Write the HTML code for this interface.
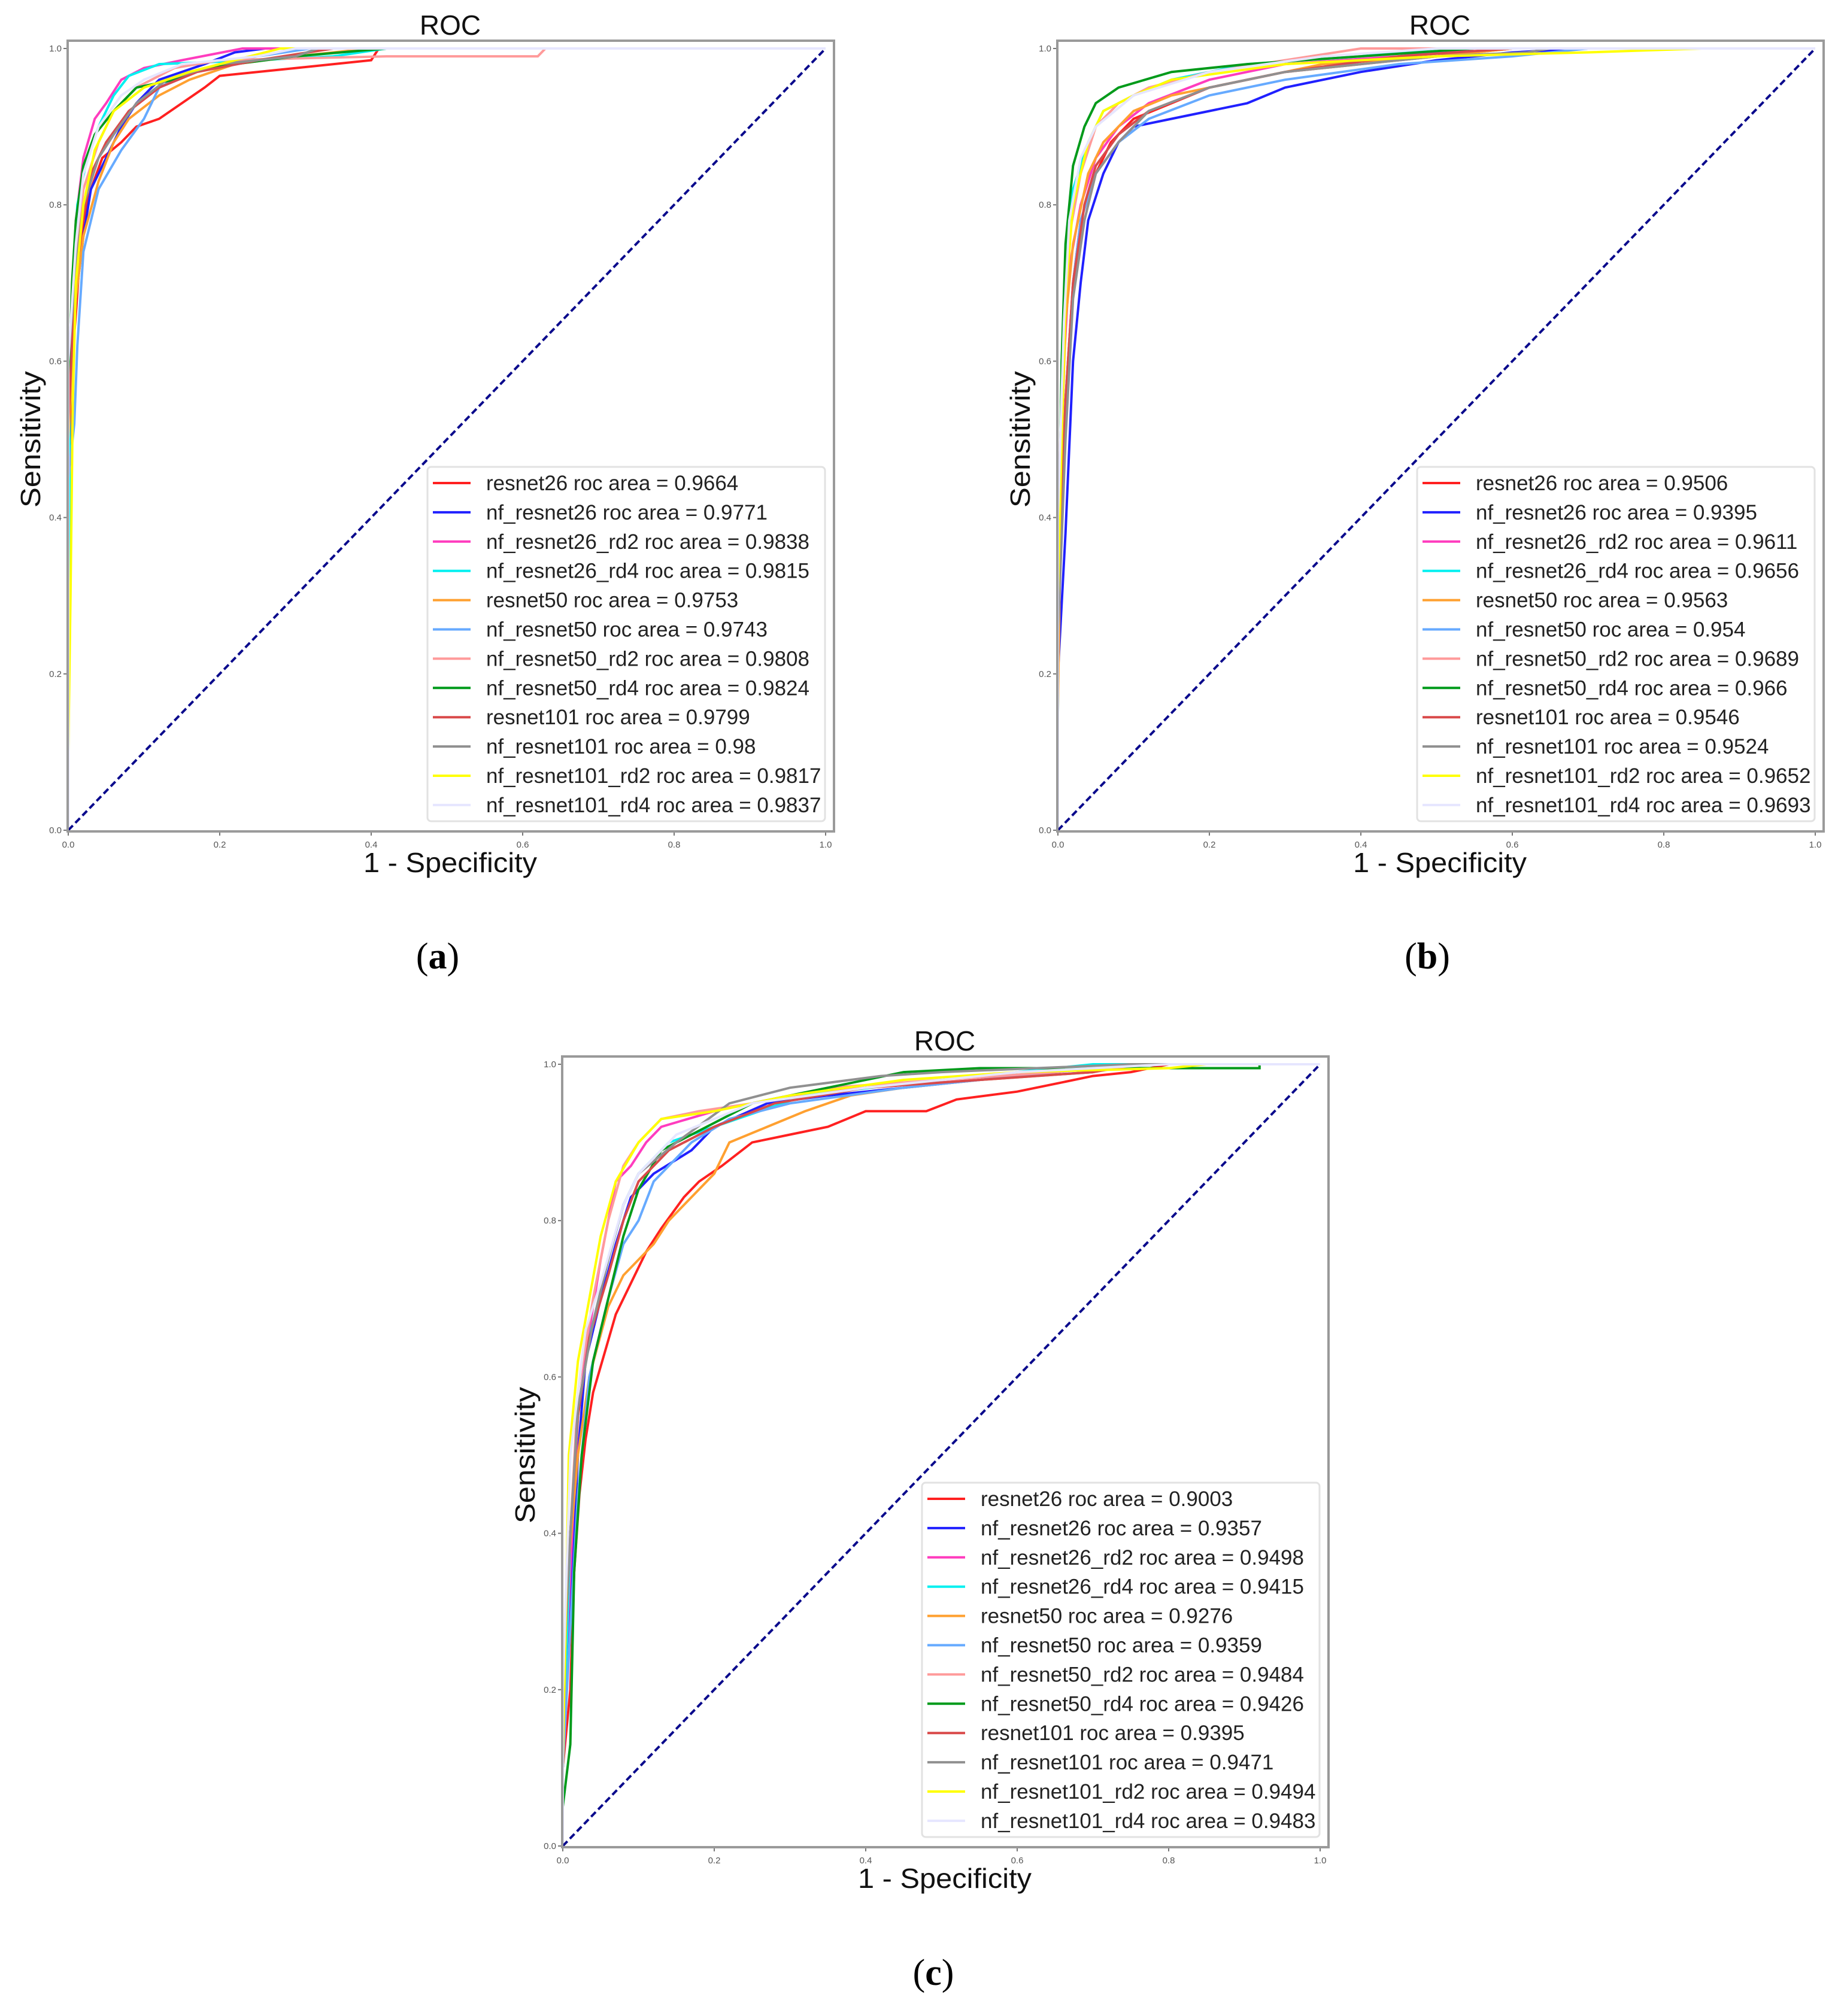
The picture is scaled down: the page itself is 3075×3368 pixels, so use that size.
<!DOCTYPE html>
<html><head><meta charset="utf-8"><style>html,body{margin:0;padding:0;background:#fff}svg{display:block}</style></head>
<body>
<svg id="fig" xmlns="http://www.w3.org/2000/svg" width="3075" height="3368" viewBox="0 0 3075 3368"></svg>
<script>
const seriesNames = ["resnet26","nf_resnet26","nf_resnet26_rd2","nf_resnet26_rd4","resnet50","nf_resnet50","nf_resnet50_rd2","nf_resnet50_rd4","resnet101","nf_resnet101","nf_resnet101_rd2","nf_resnet101_rd4"];
const seriesColors = ["#ff2020","#2020ff","#ff3cbe","#00f0f0","#ffa030","#66aaff","#ff9a9a","#009a1a","#d94a4a","#909090","#ffff00","#e6e6ff"];
const aucA = ["0.9664","0.9771","0.9838","0.9815","0.9753","0.9743","0.9808","0.9824","0.9799","0.98","0.9817","0.9837"];
const aucB = ["0.9506","0.9395","0.9611","0.9656","0.9563","0.954","0.9689","0.966","0.9546","0.9524","0.9652","0.9693"];
const aucC = ["0.9003","0.9357","0.9498","0.9415","0.9276","0.9359","0.9484","0.9426","0.9395","0.9471","0.9494","0.9483"];
const tickValues = [0,0.2,0.4,0.6,0.8,1.0];
const tickLabels = ["0.0","0.2","0.4","0.6","0.8","1.0"];

// Panel (a) curves [fpr, tpr]
const a_resnet26 = [[0,0],[0,0.42],[0.005,0.6],[0.01,0.66],[0.015,0.73],[0.02,0.78],[0.03,0.82],[0.045,0.86],[0.07,0.88],[0.09,0.9],[0.12,0.91],[0.15,0.93],[0.18,0.95],[0.2,0.965],[0.3,0.975],[0.4,0.985],[0.41,1],[1,1]];
const a_nf_resnet26 = [[0,0],[0,0.5],[0.01,0.68],[0.02,0.76],[0.03,0.82],[0.05,0.86],[0.07,0.9],[0.09,0.93],[0.12,0.96],[0.18,0.98],[0.22,0.995],[0.26,1],[1,1]];
const a_nf_resnet26_rd2 = [[0,0],[0,0.5],[0.005,0.68],[0.01,0.78],[0.02,0.86],[0.035,0.91],[0.05,0.93],[0.07,0.96],[0.1,0.975],[0.15,0.985],[0.23,1],[1,1]];
const a_nf_resnet26_rd4 = [[0,0],[0,0.1],[0.002,0.55],[0.006,0.7],[0.012,0.8],[0.025,0.86],[0.04,0.9],[0.06,0.94],[0.08,0.965],[0.12,0.98],[0.25,0.985],[0.35,0.99],[0.42,1],[1,1]];
const a_resnet50 = [[0,0],[0,0.5],[0.01,0.68],[0.02,0.76],[0.04,0.83],[0.06,0.88],[0.08,0.91],[0.12,0.94],[0.16,0.96],[0.22,0.98],[0.3,0.99],[0.4,1],[1,1]];
const a_nf_resnet50 = [[0,0],[0,0.45],[0.008,0.52],[0.012,0.62],[0.02,0.74],[0.04,0.82],[0.07,0.87],[0.1,0.91],[0.12,0.95],[0.16,0.97],[0.25,0.99],[0.32,1],[1,1]];
const a_nf_resnet50_rd2 = [[0,0],[0,0.55],[0.008,0.72],[0.02,0.82],[0.04,0.88],[0.06,0.92],[0.09,0.95],[0.14,0.975],[0.2,0.985],[0.42,0.99],[0.62,0.99],[0.63,1],[1,1]];
const a_nf_resnet50_rd4 = [[0,0],[0,0.55],[0.005,0.7],[0.01,0.78],[0.02,0.85],[0.035,0.89],[0.06,0.92],[0.09,0.95],[0.14,0.96],[0.18,0.975],[0.3,0.99],[0.42,1],[1,1]];
const a_resnet101 = [[0,0],[0,0.52],[0.008,0.68],[0.015,0.76],[0.03,0.84],[0.05,0.88],[0.08,0.92],[0.12,0.95],[0.17,0.97],[0.25,0.985],[0.35,1],[1,1]];
const a_nf_resnet101 = [[0,0],[0,0.6],[0.01,0.72],[0.02,0.8],[0.04,0.86],[0.06,0.89],[0.09,0.93],[0.13,0.96],[0.2,0.98],[0.3,0.99],[0.33,1],[1,1]];
const a_nf_resnet101_rd2 = [[0,0],[0,0.1],[0.003,0.3],[0.006,0.55],[0.01,0.7],[0.02,0.8],[0.035,0.87],[0.06,0.92],[0.1,0.95],[0.16,0.97],[0.24,0.99],[0.28,1],[1,1]];
const a_nf_resnet101_rd4 = [[0,0],[0,0.6],[0.01,0.75],[0.02,0.84],[0.04,0.9],[0.07,0.94],[0.1,0.96],[0.15,0.98],[0.25,0.99],[0.3,1],[1,1]];

// Panel (b)
const b_resnet26 = [[0,0],[0,0.3],[0.01,0.55],[0.02,0.7],[0.03,0.78],[0.05,0.84],[0.07,0.88],[0.1,0.91],[0.15,0.93],[0.2,0.95],[0.3,0.97],[0.4,0.98],[0.5,0.99],[0.6,1],[1,1]];
const b_nf_resnet26 = [[0,0],[0,0.2],[0.01,0.38],[0.02,0.6],[0.03,0.7],[0.04,0.78],[0.06,0.84],[0.08,0.88],[0.1,0.9],[0.15,0.91],[0.2,0.92],[0.25,0.93],[0.3,0.95],[0.4,0.97],[0.5,0.985],[0.6,0.995],[0.7,1],[1,1]];
const b_nf_resnet26_rd2 = [[0,0],[0,0.35],[0.008,0.6],[0.015,0.72],[0.03,0.8],[0.05,0.86],[0.08,0.9],[0.12,0.93],[0.2,0.96],[0.3,0.98],[0.45,0.99],[0.55,1],[1,1]];
const b_nf_resnet26_rd4 = [[0,0],[0,0.15],[0.005,0.6],[0.01,0.72],[0.02,0.82],[0.04,0.88],[0.06,0.92],[0.1,0.94],[0.15,0.96],[0.25,0.98],[0.4,0.99],[0.5,1],[1,1]];
const b_resnet50 = [[0,0],[0,0.15],[0.005,0.5],[0.01,0.65],[0.02,0.75],[0.04,0.84],[0.06,0.88],[0.1,0.92],[0.15,0.94],[0.25,0.96],[0.35,0.98],[0.5,0.99],[0.6,1],[1,1]];
const b_nf_resnet50 = [[0,0],[0,0.3],[0.01,0.55],[0.02,0.7],[0.03,0.78],[0.05,0.84],[0.08,0.88],[0.12,0.91],[0.2,0.94],[0.3,0.96],[0.45,0.98],[0.6,0.99],[0.7,1],[1,1]];
const b_nf_resnet50_rd2 = [[0,0],[0,0.4],[0.008,0.65],[0.015,0.76],[0.03,0.84],[0.05,0.9],[0.08,0.93],[0.12,0.95],[0.2,0.97],[0.3,0.985],[0.4,1],[1,1]];
const b_nf_resnet50_rd4 = [[0,0],[0,0.3],[0.005,0.6],[0.01,0.75],[0.02,0.85],[0.035,0.9],[0.05,0.93],[0.08,0.95],[0.15,0.97],[0.25,0.98],[0.4,0.99],[0.55,1],[1,1]];
const b_resnet101 = [[0,0],[0,0.3],[0.01,0.55],[0.02,0.7],[0.035,0.8],[0.05,0.85],[0.08,0.89],[0.12,0.92],[0.2,0.95],[0.3,0.97],[0.45,0.99],[0.6,1],[1,1]];
const b_nf_resnet101 = [[0,0],[0,0.25],[0.01,0.5],[0.02,0.68],[0.035,0.78],[0.05,0.84],[0.08,0.88],[0.12,0.92],[0.2,0.95],[0.3,0.97],[0.5,0.99],[0.62,0.995],[0.65,1],[1,1]];
const b_nf_resnet101_rd2 = [[0,0],[0,0.3],[0.005,0.5],[0.01,0.68],[0.02,0.8],[0.04,0.88],[0.06,0.92],[0.1,0.94],[0.15,0.96],[0.3,0.98],[0.5,0.99],[0.7,0.995],[0.85,1],[1,1]];
const b_nf_resnet101_rd4 = [[0,0],[0,0.4],[0.008,0.65],[0.015,0.78],[0.03,0.86],[0.05,0.9],[0.1,0.94],[0.2,0.97],[0.35,0.99],[0.5,1],[1,1]];

// Panel (c)
const c_resnet26 = [[0,0],[0,0.1],[0.01,0.2],[0.015,0.35],[0.022,0.45],[0.03,0.52],[0.04,0.58],[0.055,0.63],[0.07,0.68],[0.09,0.72],[0.11,0.76],[0.13,0.79],[0.16,0.83],[0.18,0.85],[0.21,0.87],[0.25,0.9],[0.3,0.91],[0.35,0.92],[0.4,0.94],[0.48,0.94],[0.52,0.955],[0.6,0.965],[0.65,0.975],[0.7,0.985],[0.75,0.99],[0.8,1],[1,1]];
const c_nf_resnet26 = [[0,0],[0,0.1],[0.01,0.3],[0.02,0.5],[0.03,0.62],[0.05,0.7],[0.07,0.77],[0.09,0.83],[0.12,0.86],[0.17,0.89],[0.2,0.92],[0.27,0.95],[0.35,0.96],[0.45,0.97],[0.55,0.98],[0.62,0.985],[0.7,0.99],[0.75,1],[1,1]];
const c_nf_resnet26_rd2 = [[0,0],[0,0.15],[0.01,0.35],[0.02,0.55],[0.035,0.66],[0.05,0.75],[0.06,0.8],[0.07,0.85],[0.09,0.87],[0.11,0.9],[0.13,0.92],[0.2,0.94],[0.3,0.96],[0.4,0.97],[0.55,0.98],[0.75,1],[1,1]];
const c_nf_resnet26_rd4 = [[0,0],[0,0.1],[0.01,0.4],[0.02,0.55],[0.035,0.65],[0.06,0.75],[0.08,0.82],[0.1,0.86],[0.14,0.9],[0.2,0.92],[0.26,0.94],[0.32,0.96],[0.45,0.975],[0.6,0.99],[0.7,1],[1,1]];
const c_resnet50 = [[0,0],[0,0.1],[0.005,0.33],[0.02,0.5],[0.035,0.6],[0.06,0.69],[0.08,0.73],[0.1,0.75],[0.12,0.77],[0.14,0.8],[0.17,0.83],[0.2,0.86],[0.22,0.9],[0.27,0.92],[0.32,0.94],[0.38,0.96],[0.45,0.97],[0.55,0.98],[0.7,0.99],[0.75,1],[1,1]];
const c_nf_resnet50 = [[0,0],[0,0.1],[0.01,0.28],[0.02,0.45],[0.035,0.6],[0.06,0.7],[0.08,0.77],[0.1,0.8],[0.12,0.85],[0.17,0.9],[0.22,0.93],[0.3,0.95],[0.45,0.97],[0.6,0.985],[0.75,1],[1,1]];
const c_nf_resnet50_rd2 = [[0,0],[0,0.2],[0.01,0.4],[0.02,0.58],[0.04,0.7],[0.06,0.8],[0.08,0.87],[0.1,0.9],[0.13,0.93],[0.18,0.94],[0.25,0.95],[0.35,0.97],[0.5,0.98],[0.65,0.99],[0.75,1],[1,1]];
const c_nf_resnet50_rd4 = [[0,0],[0,0.05],[0.01,0.13],[0.015,0.35],[0.025,0.5],[0.04,0.62],[0.06,0.7],[0.08,0.78],[0.1,0.84],[0.13,0.89],[0.19,0.92],[0.25,0.95],[0.35,0.97],[0.45,0.99],[0.55,0.995],[0.75,0.995],[0.92,0.995],[0.92,1],[1,1]];
const c_resnet101 = [[0,0],[0,0.2],[0.01,0.4],[0.02,0.55],[0.035,0.65],[0.06,0.73],[0.08,0.8],[0.1,0.85],[0.14,0.89],[0.2,0.92],[0.28,0.95],[0.4,0.97],[0.55,0.98],[0.7,0.99],[0.76,1],[1,1]];
const c_nf_resnet101 = [[0,0],[0,0.2],[0.01,0.4],[0.02,0.56],[0.04,0.67],[0.06,0.75],[0.08,0.82],[0.1,0.86],[0.15,0.9],[0.22,0.95],[0.3,0.97],[0.42,0.985],[0.5,0.99],[0.75,1],[1,1]];
const c_nf_resnet101_rd2 = [[0,0],[0,0.1],[0.008,0.5],[0.02,0.62],[0.035,0.7],[0.05,0.78],[0.07,0.85],[0.1,0.9],[0.13,0.93],[0.2,0.94],[0.3,0.96],[0.45,0.98],[0.6,0.99],[0.8,0.995],[0.85,1],[1,1]];
const c_nf_resnet101_rd4 = [[0,0],[0,0.2],[0.01,0.5],[0.03,0.66],[0.05,0.72],[0.08,0.82],[0.1,0.86],[0.15,0.91],[0.25,0.95],[0.4,0.97],[0.6,0.99],[0.8,1],[1,1]];

const curvesA = [a_resnet26,a_nf_resnet26,a_nf_resnet26_rd2,a_nf_resnet26_rd4,a_resnet50,a_nf_resnet50,a_nf_resnet50_rd2,a_nf_resnet50_rd4,a_resnet101,a_nf_resnet101,a_nf_resnet101_rd2,a_nf_resnet101_rd4];
const curvesB = [b_resnet26,b_nf_resnet26,b_nf_resnet26_rd2,b_nf_resnet26_rd4,b_resnet50,b_nf_resnet50,b_nf_resnet50_rd2,b_nf_resnet50_rd4,b_resnet101,b_nf_resnet101,b_nf_resnet101_rd2,b_nf_resnet101_rd4];
const curvesC = [c_resnet26,c_nf_resnet26,c_nf_resnet26_rd2,c_nf_resnet26_rd4,c_resnet50,c_nf_resnet50,c_nf_resnet50_rd2,c_nf_resnet50_rd4,c_resnet101,c_nf_resnet101,c_nf_resnet101_rd2,c_nf_resnet101_rd4];

const NS = "http://www.w3.org/2000/svg";
const svg = document.getElementById("fig");
function mk(tag, attrs, parent) {
  const e = document.createElementNS(NS, tag);
  for (const k in attrs) e.setAttribute(k, attrs[k]);
  (parent || svg).appendChild(e);
  return e;
}

function drawPanel(dx, dy, curves, aucs, letter, letterX, letterY) {
  const g = mk("g", {});
  
  
  const fl = 113 + dx, ft = 68 + dy, fr = 1393 + dx, fb = 1389 + dy;
  const x0 = 114 + dx, x1 = 1379 + dx, y0 = 1387 + dy, y1 = 81 + dy;
  const sx = v => x0 + v * (x1 - x0);
  const sy = v => y0 - v * (y0 - y1);

  const title = mk("text", {x: 752 + dx, y: 58 + dy, "text-anchor": "middle", "font-family": "Liberation Sans, sans-serif", "font-size": 46, fill: "#111"}, g);
  title.textContent = "ROC";
  
  

  tickValues.forEach((v, i) => {
    const tx = mk("line", {x1: sx(v), y1: fb, x2: sx(v), y2: fb + 7, stroke: "#777", "stroke-width": 2}, g);
    
    
    const lx = mk("text", {x: sx(v), y: fb + 27, "text-anchor": "middle", "font-family": "Liberation Sans, sans-serif", "font-size": 15, fill: "#555"}, g);
    lx.textContent = tickLabels[i];
    
    
    const ty = mk("line", {x1: fl - 7, y1: sy(v), x2: fl, y2: sy(v), stroke: "#777", "stroke-width": 2}, g);
    
    
    const ly = mk("text", {x: fl - 10, y: sy(v) + 5, "text-anchor": "end", "font-family": "Liberation Sans, sans-serif", "font-size": 15, fill: "#555"}, g);
    ly.textContent = tickLabels[i];
    
    
  });

  curves.forEach((pts, i) => {
    const p = mk("polyline", {points: pts.map(q => sx(q[0]).toFixed(1) + "," + sy(q[1]).toFixed(1)).join(" "), fill: "none", stroke: seriesColors[i], "stroke-width": 4, "stroke-linejoin": "miter"}, g);
    
    
  });

  const d = mk("line", {x1: sx(0), y1: sy(0), x2: sx(1), y2: sy(1), stroke: "#0a0a8c", "stroke-width": 4, "stroke-dasharray": "11 6"}, g);
  
  

  const fr_ = mk("rect", {x: fl, y: ft, width: fr - fl, height: fb - ft, fill: "none", stroke: "#9a9a9a", "stroke-width": 4}, g);
  
  

  const lg = mk("g", {}, g);
  
  
  const box = mk("rect", {x: 714 + dx, y: 780 + dy, width: 664, height: 592, rx: 6, fill: "#fff", "fill-opacity": 0.85, stroke: "#e2e2e2", "stroke-width": 3}, lg);
  
  
  seriesNames.forEach((n, i) => {
    const yy = 807 + dy + i * 48.9;
    const ln = mk("line", {x1: 723 + dx, y1: yy, x2: 786 + dx, y2: yy, stroke: seriesColors[i], "stroke-width": 4}, lg);
    
    
    const t = mk("text", {x: 812 + dx, y: yy + 12, "font-family": "Liberation Sans, sans-serif", "font-size": 35, fill: "#222"}, lg);
    t.textContent = n + " roc area = " + aucs[i];
    
    
  });

  const xl = mk("text", {x: 752 + dx, y: 1457 + dy, "text-anchor": "middle", "font-family": "Liberation Sans, sans-serif", "font-size": 46, fill: "#111", textLength: 290, lengthAdjust: "spacingAndGlyphs"}, g);
  xl.textContent = "1 - Specificity";
  
  
  const yl = mk("text", {x: 0, y: 0, transform: "translate(" + (67 + dx) + "," + (734 + dy) + ") rotate(-90)", "text-anchor": "middle", "font-family": "Liberation Sans, sans-serif", "font-size": 46, fill: "#111", textLength: 228, lengthAdjust: "spacingAndGlyphs"}, g);
  yl.textContent = "Sensitivity";
  
  

  const cap = mk("text", {x: letterX, y: letterY, "text-anchor": "middle", "font-family": "Liberation Serif, serif", "font-size": 62, fill: "#000"}, g);
  cap.innerHTML = '(<tspan font-weight="bold">' + letter + '</tspan>)';
  
  
}

drawPanel(0, 0, curvesA, aucA, "a", 731, 1618);
drawPanel(1653, 0, curvesB, aucB, "b", 2384, 1618);
drawPanel(826, 1697, curvesC, aucC, "c", 1559, 3316);
</script>
</body></html>
